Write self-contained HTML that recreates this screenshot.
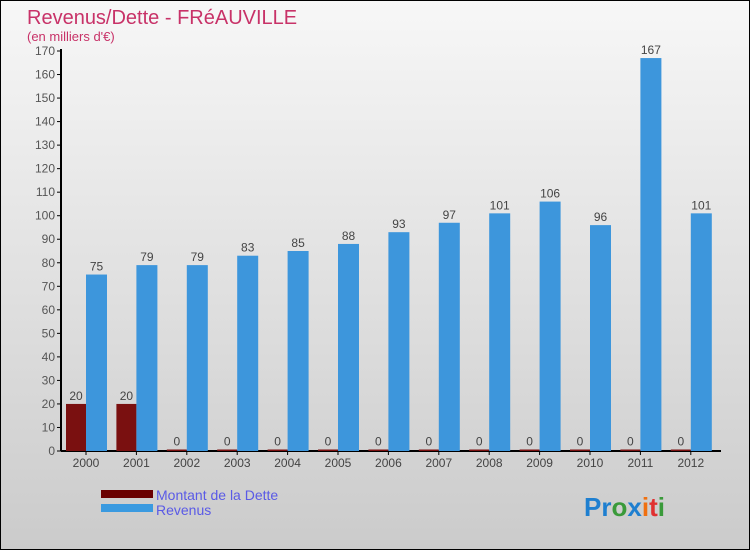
<!DOCTYPE html>
<html><head><meta charset="utf-8"><style>
body{margin:0;}
#c{width:750px;height:550px;position:relative;overflow:hidden;box-sizing:border-box;border:1px solid #000;background:linear-gradient(#f7f7f7,#cbcbcb);font-family:"Liberation Sans",sans-serif;}
</style></head><body>
<div id="c">
<svg id="s" width="750" height="550" style="position:absolute;left:0;top:0">
<text x="26" y="23" font-size="20" fill="#c83268">Revenus/Dette - FRéAUVILLE</text>
<text x="26" y="40" font-size="13" fill="#c83268">(en milliers d'€)</text>
<g id="axes"></g><g id="bars"></g>
<g>
<rect x="100" y="489" width="52" height="8" fill="#6a0000"/>
<text x="155" y="499" font-size="14" fill="#5a5ae6">Montant de la Dette</text>
<rect x="100" y="503" width="52" height="8" fill="#3a9ae0"/>
<text x="155" y="514" font-size="14" fill="#5a5ae6">Revenus</text>
</g>
<text x="583" y="515" font-size="26" font-weight="bold"><tspan fill="#1e7fd0">Pr</tspan><tspan fill="#3a9a3a">o</tspan><tspan fill="#1e7fd0">x</tspan><tspan fill="#f07010">i</tspan><tspan fill="#e03030">t</tspan><tspan fill="#3a9a3a">i</tspan></text>
</svg>
</div>
<script>
const years=["2000","2001","2002","2003","2004","2005","2006","2007","2008","2009","2010","2011","2012"];
const dette=[20,20,0,0,0,0,0,0,0,0,0,0,0];
const revenus=[75,79,79,83,85,88,93,97,101,106,96,167,101];
const yTicks=[0,10,20,30,40,50,60,70,80,90,100,110,120,130,140,150,160,170];
const NS="http://www.w3.org/2000/svg";
const y=v=>450-v*400/170;
const xc=i=>85+i*50.4;
function mk(t,a,p){const e=document.createElementNS(NS,t);for(const k in a)e.setAttribute(k,a[k]);p.appendChild(e);return e;}
const ax=document.getElementById('axes'),bg=document.getElementById('bars');
let l=mk('line',{x1:60,y1:450,x2:720,y2:450,stroke:'#000','stroke-width':2},ax);


l=mk('line',{x1:60,y1:450,x2:60,y2:48,stroke:'#000','stroke-width':2},ax);


yTicks.forEach(v=>{
 mk('line',{x1:56,x2:60,y1:y(v),y2:y(v),stroke:'#000'},ax);
 const t=mk('text',{x:54,y:y(v)+4,'font-size':12,fill:'#555','text-anchor':'end'},ax);t.textContent=v;
 
 
});
years.forEach((yr,i)=>{
 const c=xc(i);
 const t=mk('text',{x:c,y:466,'font-size':12,fill:'#444','text-anchor':'middle'},ax);t.textContent=yr;
 
 
 mk('line',{x1:c,x2:c,y1:450,y2:454,stroke:'#000'},ax);
 const hd=Math.max(450-y(dette[i]),1.5);
 const r=mk('rect',{x:c-20,y:450-hd,width:20,height:hd,fill:'#7a1010'},bg);
 
 
 const ld=mk('text',{x:c-10,y:450-hd-4,'font-size':12,fill:'#444','text-anchor':'middle'},bg);ld.textContent=dette[i];
 
 
 const hr=450-y(revenus[i]);
 const b=mk('rect',{x:c,y:y(revenus[i]),width:21,height:hr,fill:'#3d96dc'},bg);
 
 
 const lr=mk('text',{x:c+10.5,y:y(revenus[i])-4,'font-size':12,fill:'#444','text-anchor':'middle'},bg);lr.textContent=revenus[i];
 
 
});
</script>
</body></html>
